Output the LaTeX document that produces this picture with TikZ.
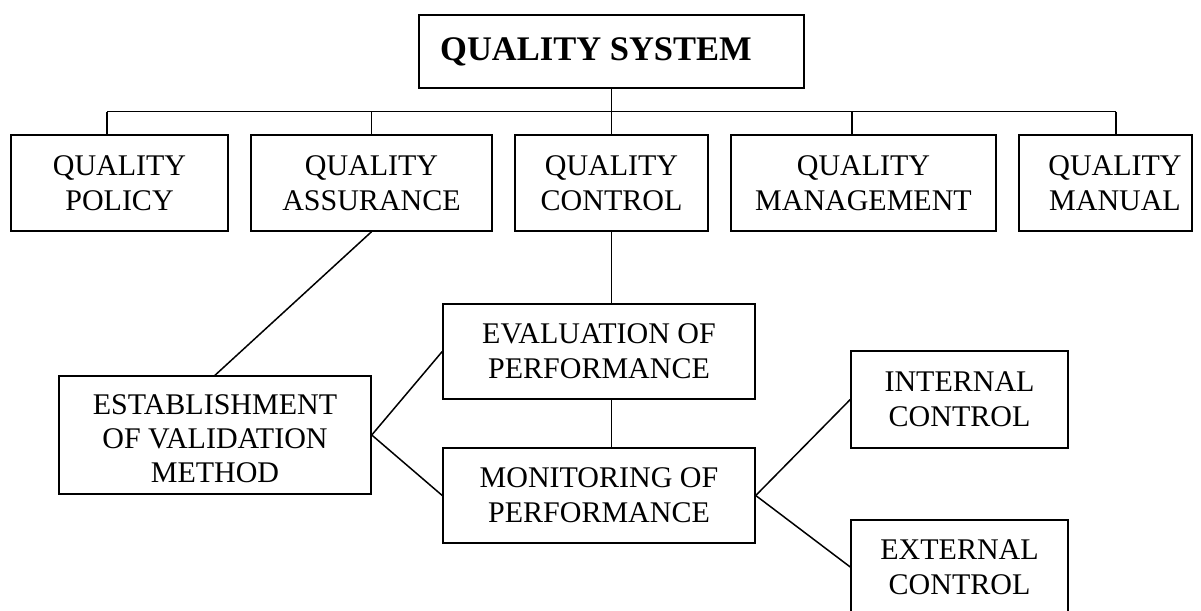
\documentclass[tikz,border=0pt]{standalone}
\usepackage{fontspec}
\setmainfont{Liberation Serif}
\begin{document}
\begin{tikzpicture}[x=1pt,y=-1pt,
  box/.style={draw, line width=1.5pt, rectangle, inner sep=0pt, align=center, font=\fontsize{30}{35}\selectfont},
  conn/.style={line width=1.5pt},
  lbl/.style={align=center, inner sep=0pt, font=\fontsize{30}{35}\selectfont}]
\useasboundingbox (0,0) rectangle (1201,610);
% top
\node[box, minimum width=385pt, minimum height=73pt,
  label={[lbl, name=systext, font=\bfseries\fontsize{34.5}{40}\selectfont, xshift=-15.5pt]center:QUALITY SYSTEM}] (sys) at (611.5,51.5) {};
% row 2
\node[box, minimum width=217pt, minimum height=96pt] (policy) at (119.5,183) {QUALITY\\POLICY};
\node[box, minimum width=241pt, minimum height=96pt] (assur) at (371.5,183) {QUALITY\\ASSURANCE};
\node[box, minimum width=193pt, minimum height=96pt] (qc) at (611.5,183) {QUALITY\\CONTROL};
\node[box, minimum width=265pt, minimum height=96pt] (mgmt) at (863.5,183) {QUALITY\\MANAGEMENT};
\node[box, minimum width=173pt, minimum height=96pt,
  label={[lbl, name=mantext, xshift=9.5pt]center:QUALITY\\MANUAL}] (manual) at (1105.5,183) {};
% row 3
\node[box, minimum width=312pt, minimum height=118pt,
  label={[lbl, name=esttext, yshift=-4pt, font=\fontsize{30}{34}\selectfont]center:ESTABLISHMENT\\OF VALIDATION\\METHOD}] (estab) at (215,435) {};
\node[box, minimum width=312pt, minimum height=95pt] (eval) at (599,351.5) {EVALUATION OF\\PERFORMANCE};
\node[box, minimum width=312pt, minimum height=95pt] (mon) at (599,495.5) {MONITORING OF\\PERFORMANCE};
\node[box, minimum width=217pt, minimum height=97pt] (intl) at (959.5,399.5) {INTERNAL\\CONTROL};
\node[box, minimum width=217pt, minimum height=94pt] (extl) at (959.5,567) {EXTERNAL\\CONTROL};
% connectors
\coordinate (busL) at (107,111.5);
\coordinate (busM) at (852,111.5);
\coordinate (busR) at (1116,111.5);
\draw[conn] (busL) -- (busR);
\draw[conn] (sys.south) -- (sys.south |- qc.north);
\draw[conn] (busL) -- (busL |- policy.north);
\draw[conn] (assur.north) -- (assur.north |- busL);
\draw[conn] (busM) -- (busM |- mgmt.north);
\draw[conn] (busR) -- (busR |- manual.north);
\draw[conn] (assur.south) -- (estab.north);
\draw[conn] (qc.south) -- (eval.north -| qc.south);
\draw[conn] (eval.south -| qc.south) -- (mon.north -| qc.south);
\draw[conn] (estab.east) -- (eval.west);
\draw[conn] (estab.east) -- (mon.west);
\draw[conn] (mon.east) -- (intl.west);
\draw[conn] (mon.east) -- (extl.west);
\end{tikzpicture}
\end{document}
